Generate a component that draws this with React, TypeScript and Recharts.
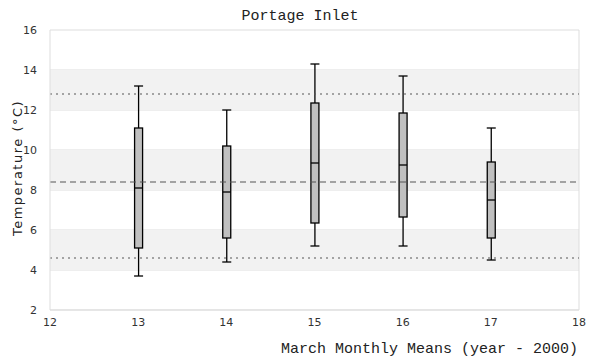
import React from "react";
import {
    ComposedChart,
    Bar,
    XAxis,
    YAxis,
    CartesianGrid,
    ReferenceArea,
    ReferenceLine,
} from "recharts";

// March monthly means, Portage Inlet
const years = [13, 14, 15, 16, 17];
const mins = [3.7, 4.4, 5.2, 5.2, 4.5];
const q1s = [5.1, 5.6, 6.35, 6.65, 5.6];
const medians = [8.1, 7.9, 9.35, 9.25, 7.5];
const q3s = [11.1, 10.2, 12.35, 11.85, 9.4];
const maxs = [13.2, 12.0, 14.3, 13.7, 11.1];

const xTicks = [12, 13, 14, 15, 16, 17, 18];
const yTicks = [2, 4, 6, 8, 10, 12, 14, 16];
const bands = [
    [4, 6],
    [8, 10],
    [12, 14],
];
const meanLine = 8.4;
const spreadLines = [4.6, 12.8];

const data = years.map((year, i) => ({
    year,
    min: mins[i],
    q1: q1s[i],
    median: medians[i],
    q3: q3s[i],
    max: maxs[i],
}));

const BoxShape = (props: any) => {
    const { x, y, width, height, payload } = props;
    const top = Math.min(y, y + height);
    const h = Math.abs(height);
    const span = payload.max - payload.min;
    const yOf = (v: number) => top + (h * (payload.max - v)) / span;
    const cx = x + width / 2;
    const cap = 4.5;
    const half = 4;
    return (
        <g stroke="#000" strokeWidth={1.3}>
            <line x1={cx} x2={cx} y1={yOf(payload.max)} y2={yOf(payload.min)} />
            <line x1={cx - cap} x2={cx + cap} y1={yOf(payload.max)} y2={yOf(payload.max)} />
            <line x1={cx - cap} x2={cx + cap} y1={yOf(payload.min)} y2={yOf(payload.min)} />
            <rect
                x={cx - half}
                y={yOf(payload.q3)}
                width={half * 2}
                height={yOf(payload.q1) - yOf(payload.q3)}
                fill="#c0c0c0"
            />
            <line x1={cx - half} x2={cx + half} y1={yOf(payload.median)} y2={yOf(payload.median)} />
        </g>
    );
};

const tickStyle = { fontSize: 11, fill: "#333", fontFamily: "DejaVu Sans" };

export default function App() {
    return (
        <div style={{ position: "absolute", left: 0, top: 0, background: "#fff" }}>
            <ComposedChart
                width={600}
                height={360}
                data={data}
                margin={{ top: 30, right: 21, left: 0, bottom: 30 }}
            >
                {bands.map(([a, b]) => (
                    <ReferenceArea
                        key={a}
                        y1={a}
                        y2={b}
                        fill="#f2f2f2"
                        fillOpacity={1}
                        stroke="none"
                    />
                ))}
                <CartesianGrid vertical={false} stroke="#dddddd" />
                <ReferenceLine x={18} stroke="#dddddd" />
                <XAxis
                    type="number"
                    dataKey="year"
                    domain={[12, 18]}
                    ticks={xTicks}
                    tick={tickStyle}
                    tickLine={false}
                    axisLine={{ stroke: "#dddddd" }}
                    height={20}
                    interval={0}
                />
                <YAxis
                    domain={[2, 16]}
                    ticks={yTicks}
                    tick={tickStyle}
                    tickLine={false}
                    tickMargin={7}
                    axisLine={{ stroke: "#dddddd" }}
                    width={50}
                    interval={0}
                />
                {spreadLines.map((v) => (
                    <ReferenceLine
                        key={v}
                        y={v}
                        stroke="#555"
                        strokeWidth={1.2}
                        strokeDasharray="2 4"
                    />
                ))}
                <ReferenceLine
                    y={meanLine}
                    stroke="#555"
                    strokeWidth={1.2}
                    strokeDasharray="6 4"
                />
                <Bar
                    dataKey={(d: any) => [d.min, d.max]}
                    barSize={9}
                    shape={BoxShape}
                    isAnimationActive={false}
                />
                <text
                    x={300}
                    y={20}
                    textAnchor="middle"
                    fontSize={15}
                    fontFamily="Liberation Mono"
                    fill="#222"
                >
                    Portage Inlet
                </text>
                <text
                    x={578}
                    y={353}
                    textAnchor="end"
                    fontSize={15}
                    fontFamily="Liberation Mono"
                    fill="#222"
                >
                    March Monthly Means (year - 2000)
                </text>
                <g transform="translate(17 168) rotate(-90)">
                    <text
                        x={0}
                        y={0}
                        textAnchor="middle"
                        dominantBaseline="central"
                        fontSize={13}
                        fontFamily="DejaVu Sans"
                        letterSpacing={1.5}
                        fill="#222"
                    >
                        Temperature (°C)
                    </text>
                </g>
            </ComposedChart>
        </div>
    );
}
